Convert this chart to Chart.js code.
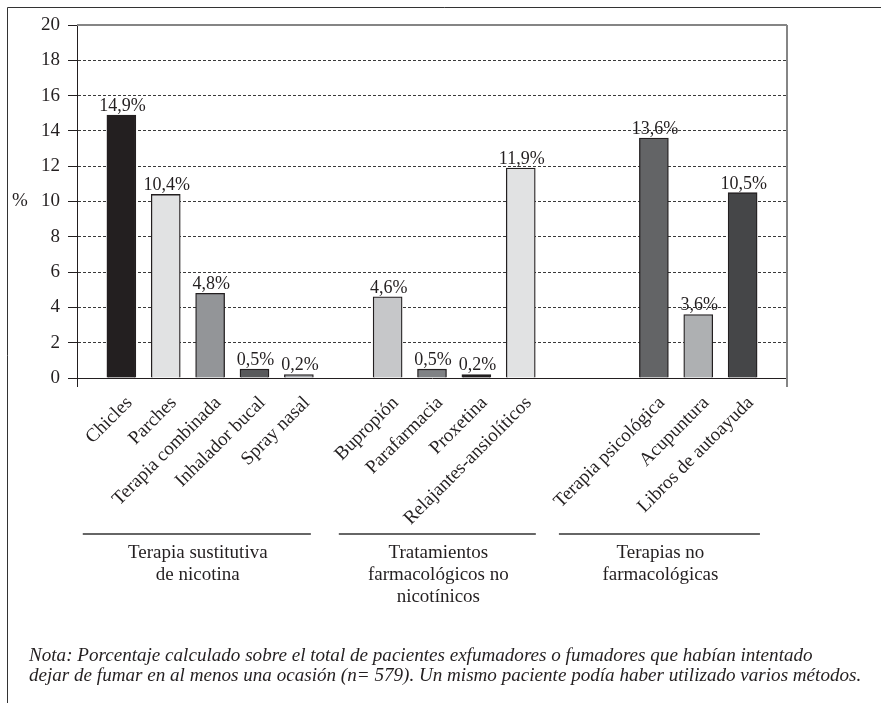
<!DOCTYPE html>
<html>
<head>
<meta charset="utf-8">
<script src="https://cdn.jsdelivr.net/npm/chart.js@4/dist/chart.umd.min.js"></script>
<style>
  html, body { margin: 0; padding: 0; background: #ffffff; }
  #wrap { width: 881px; height: 703px; position: relative; }
</style>
</head>
<body>
<div id="wrap"><canvas id="c" width="881" height="703"></canvas></div>
<script>
// Methods used to quit smoking, percentage of patients, by group
const nrtLabels = ['Chicles', 'Parches', 'Terapia combinada', 'Inhalador bucal', 'Spray nasal'];
const nrtValues = [14.9, 10.4, 4.8, 0.5, 0.2];
const nrtColors = ['#231f20', '#e1e2e3', '#939598', '#58595b', '#a5a7aa'];

const pharmLabels = ['Bupropión', 'Parafarmacia', 'Proxetina', 'Relajantes-ansiolíticos'];
const pharmValues = [4.6, 0.5, 0.2, 11.9];
const pharmColors = ['#c6c7c9', '#808285', '#231f20', '#e1e2e3'];

const otherLabels = ['Terapia psicológica', 'Acupuntura', 'Libros de autoayuda'];
const otherValues = [13.6, 3.6, 10.5];
const otherColors = ['#636466', '#aeb0b2', '#454648'];

const groupTitles = [
  ['Terapia sustitutiva', 'de nicotina'],
  ['Tratamientos', 'farmacológicos no', 'nicotínicos'],
  ['Terapias no', 'farmacológicas']
];

const yTicks = [0, 2, 4, 6, 8, 10, 12, 14, 16, 18, 20];

const noteLines = [
  'Nota: Porcentaje calculado sobre el total de pacientes exfumadores o fumadores que habían intentado',
  'dejar de fumar en al menos una ocasión (n= 579). Un mismo paciente podía haber utilizado varios métodos.'
];

// Build category slots with empty spacer slots between the groups
const labels = [], values = [], colors = [];
function pushGap(n) { for (let i = 0; i < n; i++) { labels.push(''); values.push(null); colors.push('#ffffff'); } }
function pushGroup(l, v, c) {
  const start = labels.length;
  l.forEach((t, i) => { labels.push(t); values.push(v[i]); colors.push(c[i]); });
  return [start, labels.length - 1];
}
pushGap(1);
const g1 = pushGroup(nrtLabels, nrtValues, nrtColors);
pushGap(1);
const g2 = pushGroup(pharmLabels, pharmValues, pharmColors);
pushGap(2);
const g3 = pushGroup(otherLabels, otherValues, otherColors);
pushGap(1);

// Underline extent of each group, in slot units around its first/last bar
const groupSpans = [
  { range: g1, left: 0.87, right: 0.27, title: groupTitles[0] },
  { range: g2, left: 1.10, right: 0.34, title: groupTitles[1] },
  { range: g3, left: 2.14, right: 0.39, title: groupTitles[2] }
];

const INK = '#231f20';
const SERIF = '"Liberation Serif", "Times New Roman", serif';

const decor = {
  id: 'decor',
  afterDraw(chart) {
    const ctx = chart.ctx;
    const xs = chart.scales.x, ys = chart.scales.y;
    const area = chart.chartArea;
    ctx.save();

    // outer frame (top and left edges)
    ctx.strokeStyle = '#333333';
    ctx.lineWidth = 1;
    ctx.beginPath();
    ctx.moveTo(7.5, 703); ctx.lineTo(7.5, 7.5); ctx.lineTo(881, 7.5);
    ctx.stroke();

    // plot frame: top and right edges in grey
    ctx.strokeStyle = '#858585';
    ctx.lineWidth = 2;
    ctx.beginPath();
    ctx.moveTo(area.left, area.top); ctx.lineTo(area.right, area.top);
    ctx.moveTo(area.right, area.top); ctx.lineTo(area.right, area.bottom + 9);
    ctx.stroke();

    // tick mark under the x axis at the left end
    ctx.strokeStyle = INK;
    ctx.lineWidth = 1;
    ctx.beginPath();
    ctx.moveTo(Math.round(area.left) + 0.5, area.bottom); ctx.lineTo(Math.round(area.left) + 0.5, area.bottom + 9);
    ctx.stroke();

    // axis unit
    ctx.fillStyle = INK;
    ctx.font = '19px ' + SERIF;
    ctx.textAlign = 'center';
    ctx.textBaseline = 'middle';
    ctx.fillText('%', 20, ys.getPixelForValue(10));

    // value labels above bars
    const meta = chart.getDatasetMeta(0);
    ctx.font = '18px ' + SERIF;
    ctx.textBaseline = 'alphabetic';
    meta.data.forEach((bar, i) => {
      const v = values[i];
      if (v === null) return;
      ctx.fillText(v.toFixed(1).replace('.', ',') + '%', bar.x + 1, bar.y - 4);
    });

    // group underlines and titles
    ctx.font = '19px ' + SERIF;
    groupSpans.forEach(g => {
      const x1 = xs.getPixelForValue(g.range[0] - g.left);
      const x2 = xs.getPixelForValue(g.range[1] + g.right);
      ctx.strokeStyle = '#333333';
      ctx.lineWidth = 1.5;
      ctx.beginPath();
      ctx.moveTo(x1, 534); ctx.lineTo(x2, 534);
      ctx.stroke();
      const cx = (x1 + x2) / 2 + 1;
      ctx.textBaseline = 'middle';
      g.title.forEach((t, k) => ctx.fillText(t, cx, 553 + k * 22));
    });

    // footnote
    ctx.font = 'italic 19.1px ' + SERIF;
    ctx.textAlign = 'left';
    ctx.textBaseline = 'middle';
    noteLines.forEach((t, k) => ctx.fillText(t, 29, 656 + k * 20));

    ctx.restore();
  }
};

new Chart(document.getElementById('c'), {
  type: 'bar',
  data: {
    labels: labels,
    datasets: [{
      data: values,
      backgroundColor: colors,
      borderColor: INK,
      borderWidth: 1.3,
      barThickness: 29
    }]
  },
  options: {
    responsive: false,
    animation: false,
    layout: { padding: { top: 25, right: 94, bottom: 0, left: 0 } },
    plugins: { legend: { display: false }, tooltip: { enabled: false } },
    scales: {
      x: {
        offset: false,
        grid: { display: false, drawTicks: false },
        border: { display: true, color: INK, width: 1 },
        ticks: {
          autoSkip: false,
          minRotation: 45,
          maxRotation: 45,
          padding: 14,
          labelOffset: 8,
          color: INK,
          font: { family: SERIF, size: 19 }
        },
        afterFit(scale) { scale.height = 325; }
      },
      y: {
        min: 0,
        max: 20,
        afterBuildTicks(scale) { scale.ticks = yTicks.map(v => ({ value: v })); },
        grid: {
          color: ctx => (ctx.tick && (ctx.tick.value === 0 || ctx.tick.value === 20)) ? 'rgba(0,0,0,0)' : '#3a3a3a',
          lineWidth: 1,
          tickLength: 9,
          tickColor: INK,
          tickWidth: 1
        },
        border: { display: true, color: INK, width: 1, dash: [3, 2] },
        ticks: {
          padding: 8,
          color: INK,
          font: { family: SERIF, size: 19 }
        },
        afterFit(scale) { scale.width = 77; }
      }
    }
  },
  plugins: [decor]
});
</script>
</body>
</html>
